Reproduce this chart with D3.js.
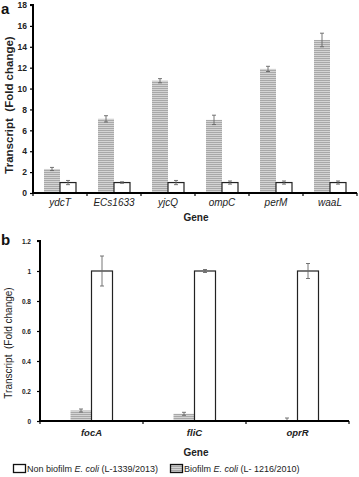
<!DOCTYPE html>
<html><head><meta charset="utf-8">
<script src="https://cdn.jsdelivr.net/npm/d3@7"></script>
<style>body{margin:0;background:#fff}svg{display:block;font-family:"Liberation Sans",Arial,sans-serif}</style>
</head><body><svg id="c" width="359" height="477"></svg>
<script>
const genesA = ["ydcT","ECs1633","yjcQ","ompC","perM","waaL"];
const biofilmA = [2.3,7.1,10.75,7.0,11.88,14.65];
const biofilmAErr = [0.15,0.3,0.2,0.45,0.25,0.65];
const nonBiofilmA = [1,1,1,1,1,1];
const nonBiofilmAErr = [0.2,0.07,0.2,0.15,0.15,0.15];
const ticksA = [0,2,4,6,8,10,12,14,16,18];

const genesB = ["focA","fliC","oprR"];
const biofilmB = [0.07,0.048,0.005];
const biofilmBErr = [0.01,0.01,0.015];
const nonBiofilmB = [1,1,1];
const nonBiofilmBErr = [0.1,0.01,0.05];
const ticksB = [0,0.2,0.4,0.6,0.8,1,1.2];

const svg = d3.select("#c");
const defs = svg.append("defs");
const pat = defs.append("pattern").attr("id","hatch").attr("patternUnits","userSpaceOnUse").attr("width",4).attr("height",2);
pat.append("rect").attr("width",4).attr("height",2).attr("fill","#d4d4d4");
pat.append("rect").attr("width",4).attr("height",1).attr("fill","#a8a8a8");

function panel(o){
  const g = svg.append("g");
  const x = d3.scaleBand().domain(o.genes).range([o.x0,o.x1]).paddingInner(0).paddingOuter(0);
  const y = d3.scaleLinear().domain([0,o.ymax]).range([o.y0,o.y1]);
  const pad = o.pad;
  const bw = (x.bandwidth()-2*pad)/2;
  o.genes.forEach((gname,i)=>{
    const bx = x(gname)+pad;
    g.append("rect").attr("x",bx).attr("y",y(o.bio[i])).attr("width",bw).attr("height",y(0)-y(o.bio[i]))
      .attr("fill","url(#hatch)").attr("stroke","none");
    g.append("rect").attr("x",bx+bw).attr("y",y(o.non[i])).attr("width",bw).attr("height",y(0)-y(o.non[i]))
      .attr("fill","#fff").attr("stroke","#222").attr("stroke-width",1.2);
    [[bx+bw/2,o.bio[i],o.bioErr[i]],[bx+bw*1.5,o.non[i],o.nonErr[i]]].forEach(([cx,v,e])=>{
      const eg = g.append("g").attr("stroke","#666").attr("stroke-width",0.9);
      eg.append("line").attr("x1",cx).attr("x2",cx).attr("y1",y(v+e)).attr("y2",y(Math.max(0,v-e)));
      eg.append("line").attr("x1",cx-2).attr("x2",cx+2).attr("y1",y(v+e)).attr("y2",y(v+e));
      if (v-e>0) eg.append("line").attr("x1",cx-2).attr("x2",cx+2).attr("y1",y(v-e)).attr("y2",y(v-e));
    });
  });
  const ya = d3.axisLeft(y).tickValues(o.ticks).tickSize(3).tickPadding(o.tickPad).tickFormat(d=>String(d));
  const yg = g.append("g").attr("transform",`translate(${o.x0},0)`).call(ya);
  yg.select(".domain").attr("stroke","#000").attr("stroke-width",2).attr("d",`M-3,${o.y1}H0V${o.y0}`);
  yg.selectAll(".tick line").attr("stroke","#000").attr("stroke-width",1.2);
  yg.selectAll("text").attr("font-size",o.tickFont).attr("font-weight","bold").attr("fill","#222").attr("font-family","Liberation Sans, Arial, sans-serif");
  const bounds = o.genes.map(d=>x(d)).concat([o.x1]);
  g.append("line").attr("x1",o.x0).attr("x2",o.x1).attr("y1",o.y0).attr("y2",o.y0).attr("stroke","#000").attr("stroke-width",2);
  bounds.forEach(b=>g.append("line").attr("x1",b).attr("x2",b).attr("y1",o.y0).attr("y2",o.y0+3).attr("stroke","#000").attr("stroke-width",1.2));
  o.genes.forEach(gname=>{
    g.append("text").attr("x",x(gname)+x.bandwidth()/2).attr("y",o.xlabY).attr("text-anchor","middle")
      .attr("font-size",o.xlabFont).attr("font-style","italic").attr("font-weight",o.xlabWeight).attr("fill","#222").text(gname);
  });
  g.append("text").attr("x",o.geneX).attr("y",o.geneY).attr("text-anchor","middle").attr("font-size",10).attr("font-weight","bold").attr("fill","#222").text("Gene");
  g.append("text").attr("transform",`translate(${o.ylabX},${o.ylabCY}) rotate(-90)`).attr("text-anchor","middle")
    .attr("font-size",o.ylabFont).attr("font-weight",o.ylabWeight).attr("fill","#222").attr("xml:space","preserve").text("Transcript  (Fold change)");
  g.append("text").attr("x",1).attr("y",o.letterY).attr("font-size",15).attr("font-weight","bold").attr("fill","#111").text(o.letter);
}

panel({genes:genesA,bio:biofilmA,bioErr:biofilmAErr,non:nonBiofilmA,nonErr:nonBiofilmAErr,ticks:ticksA,ymax:18,
  x0:33,x1:357,y0:193,y1:5,pad:11,tickPad:3,tickFont:8.5,xlabY:206,xlabFont:10,xlabWeight:"normal",
  geneX:196,geneY:221,ylabX:13,ylabCY:105,ylabFont:11.5,ylabWeight:"bold",letter:"a",letterY:14});
panel({genes:genesB,bio:biofilmB,bioErr:biofilmBErr,non:nonBiofilmB,nonErr:nonBiofilmBErr,ticks:ticksB,ymax:1.2,
  x0:40,x1:349,y0:421,y1:241,pad:30.5,tickPad:6,tickFont:6.5,xlabY:436,xlabFont:9.5,xlabWeight:"bold",
  geneX:196,geneY:456,ylabX:12,ylabCY:343,ylabFont:10,ylabWeight:"normal",letter:"b",letterY:245});

const lg = svg.append("g").attr("font-size",9).attr("fill","#222");
lg.append("rect").attr("x",13.5).attr("y",464.5).attr("width",12).attr("height",8).attr("fill","#fff").attr("stroke","#111").attr("stroke-width",1.3);
const t1 = lg.append("text").attr("x",27).attr("y",472);
t1.append("tspan").text("Non biofilm ");
t1.append("tspan").attr("font-style","italic").text("E. coli");
t1.append("tspan").text(" (L-1339/2013)");
lg.append("rect").attr("x",170.5).attr("y",464.5).attr("width",12).attr("height",8).attr("fill","url(#hatch)").attr("stroke","#111").attr("stroke-width",1.3);
const t2 = lg.append("text").attr("x",184).attr("y",472);
t2.append("tspan").text("Biofilm ");
t2.append("tspan").attr("font-style","italic").text("E. coli");
t2.append("tspan").text(" (L- 1216/2010)");
</script></body></html>
